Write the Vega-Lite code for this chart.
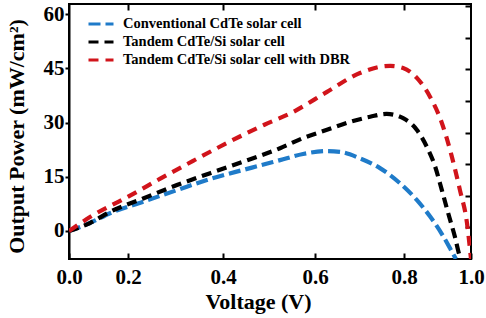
{
  "$schema": "https://vega.github.io/schema/vega-lite/v6.json",
  "width": 402,
  "height": 255,
  "autosize": {"type": "none"},
  "padding": {"left": 69, "top": 4, "right": 15, "bottom": 59},
  "background": "white",
  "config": {
    "view": {"stroke": "black", "strokeWidth": 2},
    "axis": {
      "labelFont": "Liberation Serif",
      "labelFontWeight": "bold",
      "labelColor": "black",
      "titleFont": "Liberation Serif",
      "titleFontWeight": "bold",
      "titleColor": "black",
      "domainColor": "black",
      "domainWidth": 2,
      "tickColor": "black",
      "tickWidth": 2,
      "labelFlush": false,
      "zindex": 1,
      "grid": false
    }
  },
  "data": {
    "values": [
      {"s": "Conventional CdTe solar cell", "V": 0.0, "P": 0.0},
      {"s": "Conventional CdTe solar cell", "V": 0.071, "P": 2.2},
      {"s": "Conventional CdTe solar cell", "V": 0.139, "P": 4.9},
      {"s": "Conventional CdTe solar cell", "V": 0.232, "P": 8.1},
      {"s": "Conventional CdTe solar cell", "V": 0.303, "P": 11.3},
      {"s": "Conventional CdTe solar cell", "V": 0.373, "P": 14.4},
      {"s": "Conventional CdTe solar cell", "V": 0.444, "P": 16.9},
      {"s": "Conventional CdTe solar cell", "V": 0.48, "P": 18.1},
      {"s": "Conventional CdTe solar cell", "V": 0.524, "P": 19.6},
      {"s": "Conventional CdTe solar cell", "V": 0.574, "P": 21.3},
      {"s": "Conventional CdTe solar cell", "V": 0.626, "P": 22.1},
      {"s": "Conventional CdTe solar cell", "V": 0.656, "P": 21.9},
      {"s": "Conventional CdTe solar cell", "V": 0.701, "P": 20.1},
      {"s": "Conventional CdTe solar cell", "V": 0.746, "P": 17.4},
      {"s": "Conventional CdTe solar cell", "V": 0.791, "P": 13.2},
      {"s": "Conventional CdTe solar cell", "V": 0.838, "P": 8.6},
      {"s": "Conventional CdTe solar cell", "V": 0.878, "P": 4.0},
      {"s": "Conventional CdTe solar cell", "V": 0.918, "P": -1.6},
      {"s": "Conventional CdTe solar cell", "V": 0.948, "P": -6.6},
      {"s": "Conventional CdTe solar cell", "V": 0.955, "P": -7.75},
      {"s": "Tandem CdTe/Si solar cell", "V": 0.0, "P": 0.0},
      {"s": "Tandem CdTe/Si solar cell", "V": 0.071, "P": 2.2},
      {"s": "Tandem CdTe/Si solar cell", "V": 0.139, "P": 5.3},
      {"s": "Tandem CdTe/Si solar cell", "V": 0.232, "P": 9.0},
      {"s": "Tandem CdTe/Si solar cell", "V": 0.303, "P": 12.7},
      {"s": "Tandem CdTe/Si solar cell", "V": 0.373, "P": 16.0},
      {"s": "Tandem CdTe/Si solar cell", "V": 0.444, "P": 19.2},
      {"s": "Tandem CdTe/Si solar cell", "V": 0.48, "P": 20.8},
      {"s": "Tandem CdTe/Si solar cell", "V": 0.524, "P": 22.9},
      {"s": "Tandem CdTe/Si solar cell", "V": 0.574, "P": 25.7},
      {"s": "Tandem CdTe/Si solar cell", "V": 0.627, "P": 28.0},
      {"s": "Tandem CdTe/Si solar cell", "V": 0.679, "P": 30.2},
      {"s": "Tandem CdTe/Si solar cell", "V": 0.724, "P": 31.6},
      {"s": "Tandem CdTe/Si solar cell", "V": 0.761, "P": 32.4},
      {"s": "Tandem CdTe/Si solar cell", "V": 0.798, "P": 31.2},
      {"s": "Tandem CdTe/Si solar cell", "V": 0.838, "P": 28.0},
      {"s": "Tandem CdTe/Si solar cell", "V": 0.868, "P": 23.3},
      {"s": "Tandem CdTe/Si solar cell", "V": 0.893, "P": 17.8},
      {"s": "Tandem CdTe/Si solar cell", "V": 0.913, "P": 11.3},
      {"s": "Tandem CdTe/Si solar cell", "V": 0.932, "P": 4.9},
      {"s": "Tandem CdTe/Si solar cell", "V": 0.952, "P": -1.6},
      {"s": "Tandem CdTe/Si solar cell", "V": 0.967, "P": -7.1},
      {"s": "Tandem CdTe/Si solar cell", "V": 0.97, "P": -7.75},
      {"s": "Tandem CdTe/Si solar cell with  DBR", "V": 0.0, "P": 0.0},
      {"s": "Tandem CdTe/Si solar cell with  DBR", "V": 0.082, "P": 4.4},
      {"s": "Tandem CdTe/Si solar cell with  DBR", "V": 0.196, "P": 9.3},
      {"s": "Tandem CdTe/Si solar cell with  DBR", "V": 0.267, "P": 14.4},
      {"s": "Tandem CdTe/Si solar cell with  DBR", "V": 0.337, "P": 19.4},
      {"s": "Tandem CdTe/Si solar cell with  DBR", "V": 0.408, "P": 24.3},
      {"s": "Tandem CdTe/Si solar cell with  DBR", "V": 0.49, "P": 29.4},
      {"s": "Tandem CdTe/Si solar cell with  DBR", "V": 0.552, "P": 32.9},
      {"s": "Tandem CdTe/Si solar cell with  DBR", "V": 0.627, "P": 38.5},
      {"s": "Tandem CdTe/Si solar cell with  DBR", "V": 0.701, "P": 43.7},
      {"s": "Tandem CdTe/Si solar cell with  DBR", "V": 0.769, "P": 45.7},
      {"s": "Tandem CdTe/Si solar cell with  DBR", "V": 0.798, "P": 45.1},
      {"s": "Tandem CdTe/Si solar cell with  DBR", "V": 0.839, "P": 42.3},
      {"s": "Tandem CdTe/Si solar cell with  DBR", "V": 0.878, "P": 37.1},
      {"s": "Tandem CdTe/Si solar cell with  DBR", "V": 0.913, "P": 29.9},
      {"s": "Tandem CdTe/Si solar cell with  DBR", "V": 0.943, "P": 20.5},
      {"s": "Tandem CdTe/Si solar cell with  DBR", "V": 0.967, "P": 11.3},
      {"s": "Tandem CdTe/Si solar cell with  DBR", "V": 0.988, "P": 2.2},
      {"s": "Tandem CdTe/Si solar cell with  DBR", "V": 1.0, "P": -7.75}
    ]
  },
  "layer": [
    {
      "mark": {"type": "line", "strokeWidth": 4.2, "clip": true, "interpolate": "monotone"},
      "encoding": {
        "x": {
          "field": "V",
          "type": "quantitative",
          "scale": {"domain": [0, 0.2, 0.4, 0.6, 0.8, 1.0], "range": [0, 59, 154, 246, 335, 402], "nice": false, "zero": false},
          "axis": {
            "orient": "bottom",
            "values": [0, 0.2, 0.4, 0.6, 0.8, 1.0],
            "format": ".1f",
            "domain": false,
            "offset": -6,
            "tickSize": 6,
            "labelFontSize": 21,
            "labelPadding": 7,
            "labelBaseline": "top",
            "title": "Voltage (V)",
            "titleFontSize": 22,
            "titleX": 189,
            "titleY": 55,
            "titleBaseline": "alphabetic",
            "titleAnchor": "middle"
          }
        },
        "y": {
          "field": "P",
          "type": "quantitative",
          "scale": {"domain": [-7.75, 62.8], "nice": false, "zero": false},
          "axis": {
            "orient": "left",
            "values": [0, 15, 30, 45, 60],
            "labelFontSize": 21,
            "labelPadding": 1,
            "tickSize": 4,
            "title": "Output Power  (mW/cm²)",
            "titleFontSize": 22,
            "titleX": -53,
            "titleY": 132,
            "titleBaseline": "middle",
            "titleAnchor": "middle"
          }
        },
        "color": {
          "field": "s",
          "type": "nominal",
          "scale": {
            "domain": ["Conventional CdTe solar cell", "Tandem CdTe/Si solar cell", "Tandem CdTe/Si solar cell with  DBR"],
            "range": ["#1f7bc9", "#000000", "#d1141b"]
          },
          "legend": {
            "title": null,
            "orient": "none",
            "legendX": 18,
            "legendY": 11,
            "padding": 0,
            "labelFont": "Liberation Serif",
            "labelFontWeight": "bold",
            "labelFontSize": 14.5,
            "labelColor": "black",
            "labelOffset": 8,
            "labelLimit": 0,
            "clipHeight": 18,
            "symbolType": "stroke",
            "symbolSize": 625,
            "symbolStrokeWidth": 3,
            "rowPadding": 0
          }
        },
        "strokeDash": {
          "field": "s",
          "type": "nominal",
          "scale": {
            "domain": ["Conventional CdTe solar cell", "Tandem CdTe/Si solar cell", "Tandem CdTe/Si solar cell with  DBR"],
            "range": [[12, 5], [10, 6], [10, 7]]
          },
          "legend": {
            "title": null,
            "orient": "none",
            "legendX": 18,
            "legendY": 11,
            "padding": 0,
            "labelFont": "Liberation Serif",
            "labelFontWeight": "bold",
            "labelFontSize": 14.5,
            "labelColor": "black",
            "labelOffset": 8,
            "labelLimit": 0,
            "clipHeight": 18,
            "symbolType": "stroke",
            "symbolSize": 625,
            "symbolStrokeWidth": 3,
            "rowPadding": 0
          }
        }
      }
    },
    {
      "mark": {"type": "point", "opacity": 0, "clip": true},
      "encoding": {
        "x": {
          "field": "V",
          "type": "quantitative",
          "axis": {"orient": "top", "values": [0.2, 0.4, 0.6, 0.8], "labels": false, "domain": false, "offset": -6, "tickSize": 6, "title": null}
        },
        "y": {
          "field": "P",
          "type": "quantitative",
          "scale": {"domain": [0, 8.07], "nice": false, "zero": false},
          "axis": {"orient": "right", "values": [1, 2, 3, 4, 5, 6, 7, 8], "labels": false, "domain": false, "offset": -6, "tickSize": 6, "title": null}
        }
      }
    }
  ],
  "resolve": {"scale": {"y": "independent"}, "axis": {"x": "independent", "y": "independent"}}
}
